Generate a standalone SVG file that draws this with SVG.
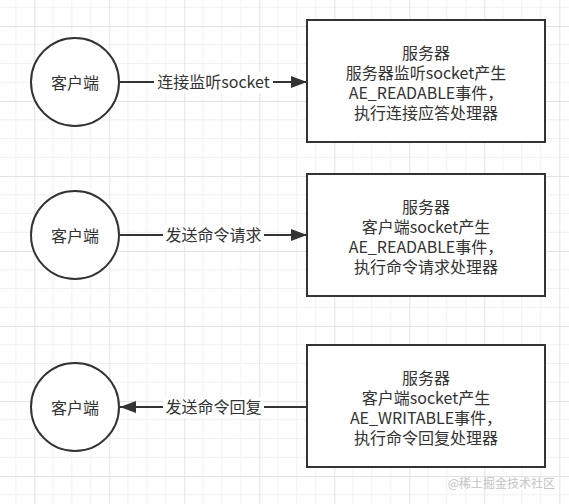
<svg xmlns="http://www.w3.org/2000/svg" width="569" height="504" viewBox="0 0 569 504">
  <defs>
    <pattern id="grid" x="34.3" y="26" width="75" height="75" patternUnits="userSpaceOnUse">
      <path d="M18.75 0V75M37.5 0V75M56.25 0V75M0 18.75H75M0 37.5H75M0 56.25H75" stroke="#f0f0f0" stroke-width="1" fill="none"/>
      <path d="M0.5 0V75M0 0.5H75" stroke="#e2e2e2" stroke-width="1" fill="none"/>
    </pattern>
    <marker id="arrow" viewBox="0 0 16 12" refX="16" refY="6" markerWidth="16" markerHeight="12" markerUnits="userSpaceOnUse" orient="auto">
      <path d="M0 0L16 6L0 12Z" fill="#333333"/>
    </marker>
  </defs>
  <style>
    text { font-family: "Noto Sans CJK SC", "Liberation Sans", sans-serif; font-size: 16px; fill: #333333; text-anchor: middle; }
    .node { fill: #ffffff; stroke: #333333; stroke-width: 2; }
    .edge { stroke: #333333; stroke-width: 2; fill: none; }
    .lbl-bg { fill: #ffffff; }
    .wm { font-size: 12px; fill: #c4c4c4; text-anchor: end; }
  </style>
  <rect x="0" y="0" width="569" height="504" fill="#ffffff"/>
  <rect x="0" y="0" width="569" height="504" fill="url(#grid)"/>

  <g id="connectors">
    <line class="edge" x1="120" y1="82" x2="307" y2="82" marker-end="url(#arrow)"/>
    <rect class="lbl-bg" x="154" y="72" width="119" height="21"/>
    <text x="213.5" y="88">连接监听socket</text>

    <line class="edge" x1="120" y1="235" x2="307" y2="235" marker-end="url(#arrow)"/>
    <rect class="lbl-bg" x="163" y="225" width="101" height="21"/>
    <text x="213.5" y="241">发送命令请求</text>

    <line class="edge" x1="307" y1="407" x2="120" y2="407" marker-end="url(#arrow)"/>
    <rect class="lbl-bg" x="163" y="397" width="101" height="21"/>
    <text x="213.5" y="413">发送命令回复</text>
  </g>

  <g id="client1">
    <circle class="node" cx="75" cy="82" r="44"/>
    <text x="75" y="89">客户端</text>
  </g>
  <g id="server1">
    <rect class="node" x="307" y="20" width="238" height="122"/>
    <text x="426" y="58.5">服务器</text>
    <text x="426" y="79">服务器监听socket产生</text>
    <text x="426" y="99">AE_READABLE事件，</text>
    <text x="426" y="119">执行连接应答处理器</text>
  </g>

  <g id="client2">
    <circle class="node" cx="75" cy="235" r="44"/>
    <text x="75" y="242">客户端</text>
  </g>
  <g id="server2">
    <rect class="node" x="307" y="174" width="238" height="122"/>
    <text x="426" y="212.5">服务器</text>
    <text x="426" y="232.5">客户端socket产生</text>
    <text x="426" y="252.5">AE_READABLE事件，</text>
    <text x="426" y="272.5">执行命令请求处理器</text>
  </g>

  <g id="client3">
    <circle class="node" cx="75" cy="407" r="44"/>
    <text x="75" y="414">客户端</text>
  </g>
  <g id="server3">
    <rect class="node" x="307" y="345" width="238" height="122"/>
    <text x="426" y="384">服务器</text>
    <text x="426" y="404">客户端socket产生</text>
    <text x="426" y="424">AE_WRITABLE事件，</text>
    <text x="426" y="443.5">执行命令回复处理器</text>
  </g>

  <text class="wm" x="555" y="488">@稀土掘金技术社区</text>
</svg>
